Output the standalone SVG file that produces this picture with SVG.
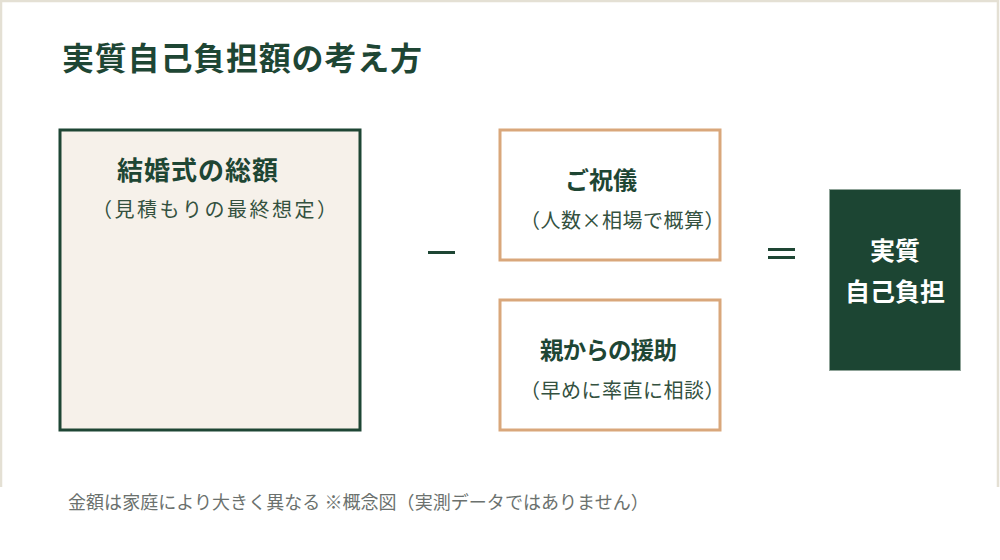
<svg xmlns="http://www.w3.org/2000/svg" width="1000" height="560" viewBox="0 0 1000 560">
<style>
text{font-family:"Noto Sans CJK JP","Noto Sans",sans-serif}
.title{font-size:32px;font-weight:700;fill:#1e4634;letter-spacing:0.8px}
.head{font-weight:700;fill:#1e4634}
.sub{font-size:20px;fill:#34513f}
.white{font-size:25px;font-weight:700;fill:#ffffff}
.foot{font-size:18px;fill:#6b716e}
.op{stroke:#1e4634;stroke-width:3}
.orange{fill:#ffffff;stroke:#d9a77b;stroke-width:3}
</style>
<rect x="0" y="0" width="1000" height="560" fill="#ffffff"/>
<path d="M1,487 V1 H998 V487" fill="none" stroke="#e4e0d4" stroke-width="2.5"/>
<text class="title" x="62" y="70">実質自己負担額の考え方</text>
<g id="total">
<rect x="60" y="130" width="300" height="300" fill="#f6f1ea" stroke="#1e4634" stroke-width="3"/>
<text class="head" x="117" y="180" font-size="26" letter-spacing="1">結婚式の総額</text>
<text class="sub" x="92" y="217" font-size="21" letter-spacing="2.5">（見積もりの最終想定）</text>
</g>
<g id="gift">
<rect class="orange" x="500" y="130" width="220" height="130"/>
<text class="head" x="565" y="189" font-size="24">ご祝儀</text>
<text class="sub" x="520" y="228" letter-spacing="0.5">（人数×相場で概算）</text>
</g>
<g id="parents">
<rect class="orange" x="500" y="300" width="220" height="130"/>
<text class="head" x="540" y="359" font-size="23.5" letter-spacing="-0.8">親からの援助</text>
<text class="sub" x="520" y="398" letter-spacing="0.5">（早めに率直に相談）</text>
</g>
<g id="result">
<rect x="829.5" y="189.5" width="131" height="181" fill="#1c4533" stroke="#8fa398" stroke-width="1"/>
<text class="white" x="895" y="260" text-anchor="middle">実質</text>
<text class="white" x="895" y="301" text-anchor="middle">自己負担</text>
</g>
<g id="connectors">
<line class="op" x1="428" y1="252.5" x2="455" y2="252.5"/>
<line class="op" x1="768" y1="249.5" x2="795" y2="249.5" stroke-width="2.5"/>
<line class="op" x1="768" y1="257.5" x2="795" y2="257.5" stroke-width="2.5"/>
</g>
<text class="foot" x="68" y="509" letter-spacing="0.05">金額は家庭により大きく異なる ※概念図（実測データではありません）</text>
</svg>
